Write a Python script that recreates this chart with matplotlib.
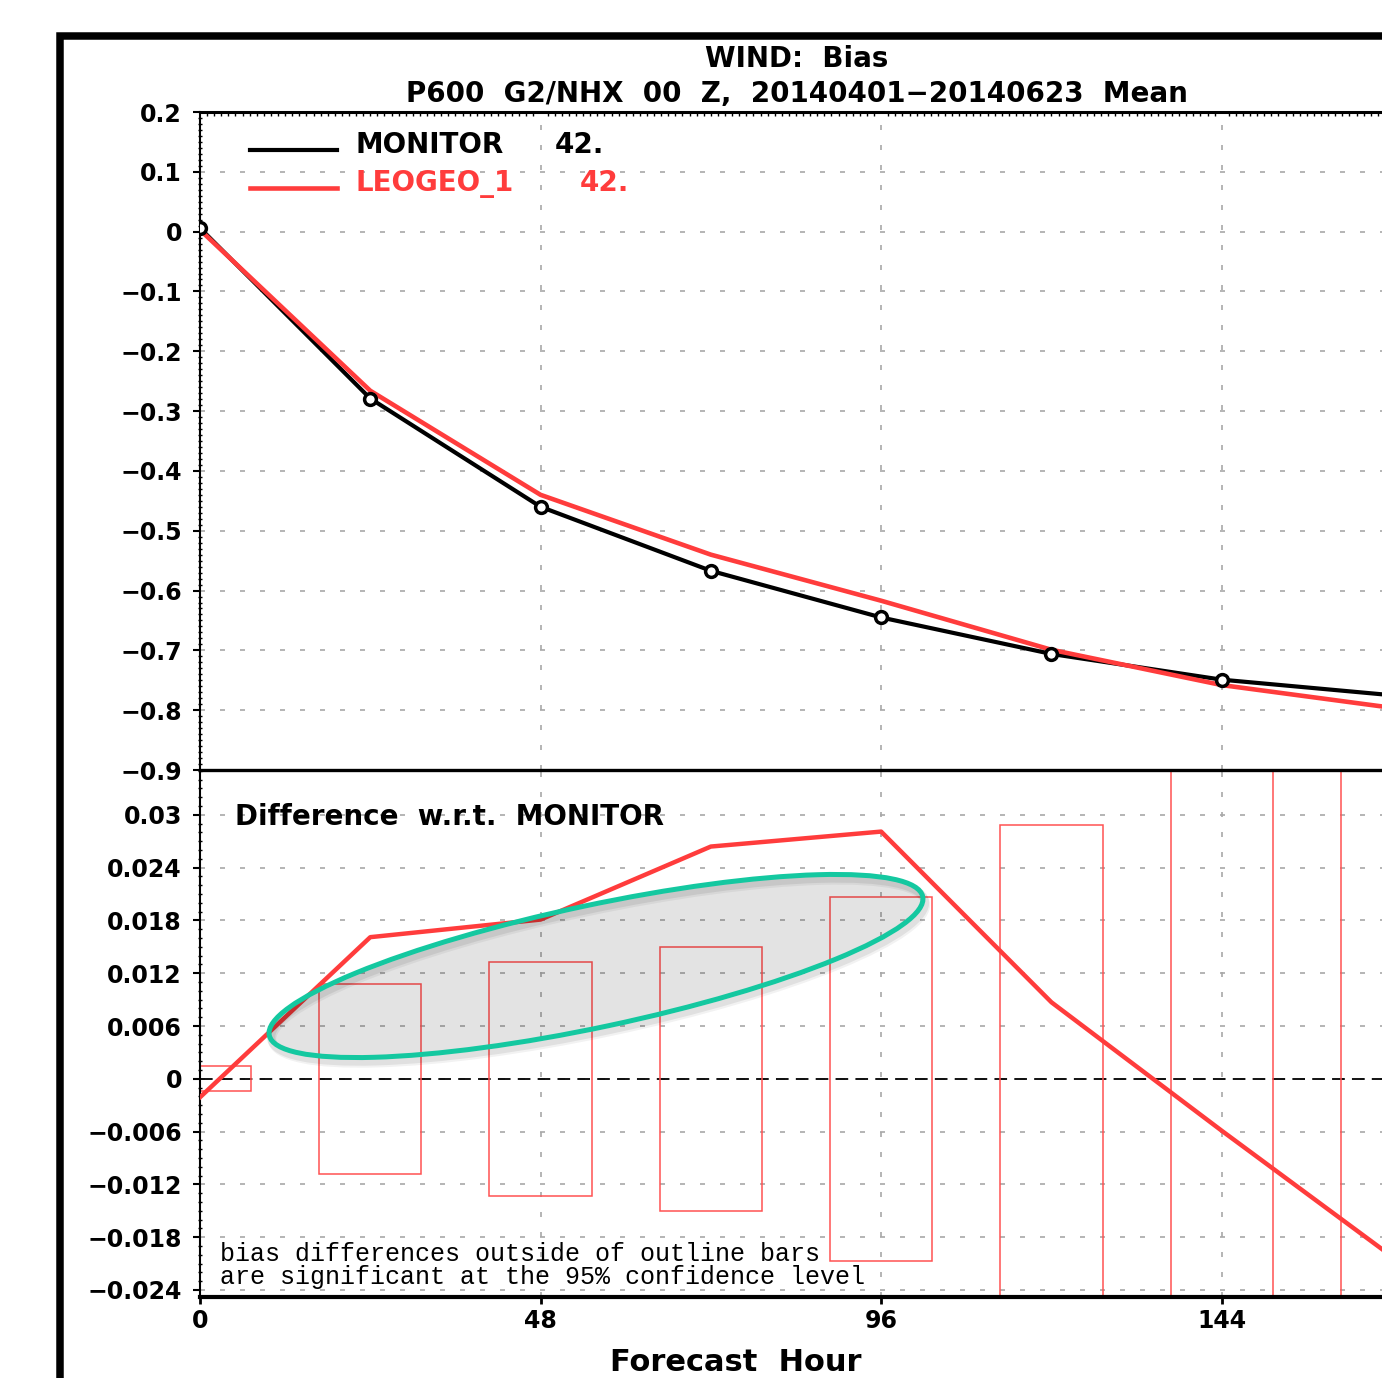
import numpy as np
import matplotlib
import matplotlib.pyplot as plt
from matplotlib.patches import Ellipse, Rectangle
from matplotlib.ticker import MultipleLocator
from matplotlib.transforms import IdentityTransform

matplotlib.use('agg')

# forecast hours and mean wind bias at P600
hours = [0, 24, 48, 72, 96, 120, 144, 168]
monitor_bias = [0.006, -0.279, -0.460, -0.567, -0.645, -0.706, -0.749, -0.775]
leogeo_bias = [0.003, -0.266, -0.440, -0.540, -0.617, -0.699, -0.758, -0.796]

# LEOGEO_1 minus MONITOR, and half height of the 95% significance bars
bias_diff = [-0.0021, 0.0161, 0.0181, 0.0264, 0.0281, 0.0087, -0.0059, -0.0202]
conf_half = [0.0014, 0.0108, 0.0133, 0.0150, 0.0207, 0.0288, 0.038, 0.045]

top_yticks = [0.2, 0.1, 0, -0.1, -0.2, -0.3, -0.4, -0.5, -0.6, -0.7, -0.8, -0.9]
top_ylabels = ['0.2', '0.1', '0', '−0.1', '−0.2', '−0.3', '−0.4', '−0.5',
               '−0.6', '−0.7', '−0.8', '−0.9']
diff_yticks = [0.03, 0.024, 0.018, 0.012, 0.006, 0, -0.006, -0.012, -0.018, -0.024]
diff_ylabels = ['0.03', '0.024', '0.018', '0.012', '0.006', '0',
                '−0.006', '−0.012', '−0.018', '−0.024']
xticks = [0, 48, 96, 144]
xlabels = ['0', '48', '96', '144']

RED = '#ff3c3c'
BAR_RED = '#ff5252'
TEAL = '#14c8a0'
W, H = 1382, 1378

plt.rcParams['font.family'] = 'DejaVu Sans'
plt.rcParams['font.weight'] = 'bold'


def px_box(l, t, r, b):
    return [l / W, 1 - b / H, (r - l) / W, (b - t) / H]


def fxy(x, y):
    return x / W, 1 - y / H


fig = plt.figure(figsize=(W / 100, H / 100), dpi=100)
fig.patch.set_facecolor('white')

ax2 = fig.add_axes(px_box(200, 770, 1392, 1297))
ax1 = fig.add_axes(px_box(200, 112, 1392, 770))
ax2.patch.set_visible(False)

grid_kw = dict(color='#a8a8a8', linewidth=1.2, linestyle=(0, (3, 9)))

# ---- top panel: bias curves
ax1.set_xlim(0, 168)
ax1.set_ylim(-0.9, 0.2)
ax1.set_yticks(top_yticks, top_ylabels, fontsize=17, fontweight='bold')
ax1.set_xticks(xticks)
ax1.tick_params(axis='x', labelbottom=False, length=0)
ax1.tick_params(axis='y', direction='out', length=5, width=1.5, pad=8)
ax1.xaxis.set_minor_locator(MultipleLocator(1))
ax1.tick_params(axis='x', which='minor', direction='in', length=3, width=1,
                top=True, bottom=False)
ax1.yaxis.set_minor_locator(MultipleLocator(0.01))
ax1.tick_params(axis='y', which='minor', direction='inout', length=3, width=1)
ax1.grid(True, **grid_kw)
ax1.set_axisbelow(True)
ax1.spines['top'].set_linewidth(2.2)
ax1.spines['bottom'].set_linewidth(2.4)
ax1.spines['left'].set_linewidth(1.5)

ax1.plot(hours, monitor_bias, color='black', lw=3.0, zorder=3)
ax1.plot(hours, leogeo_bias, color=RED, lw=3.3, zorder=4)
ax1.plot(hours, monitor_bias, ls='none', marker='o', ms=8.5, mfc='white',
         mec='black', mew=2.5, zorder=5)

# legend drawn by hand, as GrADS does
ax1.plot([0.042, 0.115], [0.942, 0.942], color='black', lw=3.0,
         transform=ax1.transAxes, clip_on=False)
ax1.plot([0.042, 0.115], [0.885, 0.885], color=RED, lw=3.3,
         transform=ax1.transAxes, clip_on=False)
fig.text(*fxy(355, 153), 'MONITOR', fontsize=20, va='baseline', color='black')
fig.text(*fxy(555, 153), '42.', fontsize=20, va='baseline', color='black')
fig.text(*fxy(355, 191), 'LEOGEO_1', fontsize=20, va='baseline', color=RED)
fig.text(*fxy(580, 191), '42.', fontsize=20, va='baseline', color=RED)

# ---- bottom panel: differences with significance bars
ax2.set_xlim(0, 168)
ax2.set_ylim(-0.0248, 0.0351)
ax2.set_yticks(diff_yticks, diff_ylabels, fontsize=17, fontweight='bold')
ax2.set_xticks(xticks, xlabels, fontsize=17, fontweight='bold')
ax2.tick_params(axis='y', direction='out', length=5, width=1.5, pad=8)
ax2.tick_params(axis='x', direction='out', length=5, width=2, pad=4)
ax2.yaxis.set_minor_locator(MultipleLocator(0.001))
ax2.tick_params(axis='y', which='minor', direction='inout', length=3, width=1)
ax2.grid(True, **grid_kw)
ax2.set_axisbelow(True)
ax2.spines['top'].set_visible(False)
ax2.spines['bottom'].set_linewidth(3.0)
ax2.spines['left'].set_linewidth(1.5)

ax2.axhline(0, color='black', lw=1.3, ls=(0, (7, 4)), zorder=1)
ax2.bar(hours, [2 * h for h in conf_half], bottom=[-h for h in conf_half],
        width=14.4, fill=False, edgecolor=BAR_RED, linewidth=1.1, zorder=2)
ax2.plot(hours, bias_diff, color=RED, lw=3.2, zorder=3)

fig.text(*fxy(235, 825), 'Difference  w.r.t.  MONITOR', fontsize=20,
         va='baseline')
fig.text(*fxy(220, 1261), 'bias differences outside of outline bars',
         fontsize=18, va='baseline', family='Liberation Mono', fontweight='normal')
fig.text(*fxy(220, 1284), 'are significant at the 95% confidence level',
         fontsize=18, va='baseline', family='Liberation Mono', fontweight='normal')

# titles and x label
fig.text(*fxy(797, 67), 'WIND:  Bias', fontsize=20, ha='center', va='baseline')
fig.text(*fxy(797, 102), 'P600  G2/NHX  00  Z,  20140401−20140623  Mean',
         fontsize=20, ha='center', va='baseline')
fig.text(*fxy(736, 1371), 'Forecast  Hour', fontsize=22, ha='center',
         va='baseline')

# highlight ellipse with soft shadow
for off, alpha in [(6, 0.05), (4, 0.07)]:
    shadow = Ellipse((596 + off / 2, H - 966 - off), 668, 122, angle=12.0,
                     transform=IdentityTransform(), facecolor='none',
                     edgecolor=(0, 0, 0, alpha), lw=6)
    fig.add_artist(shadow)
oval = Ellipse((596, H - 966), 668, 122, angle=12.0, transform=IdentityTransform(),
               facecolor=(0, 0, 0, 0.11), edgecolor=TEAL, lw=3.6)
fig.add_artist(oval)

# outer frame, cut off at the right and bottom
frame = Rectangle((60 / W, -0.1), 1.2, 1 - 35.5 / H + 0.1, transform=fig.transFigure,
                  fill=False, edgecolor='black', lw=5.4, clip_on=False)
fig.add_artist(frame)

fig.savefig('out.png', dpi=100)
